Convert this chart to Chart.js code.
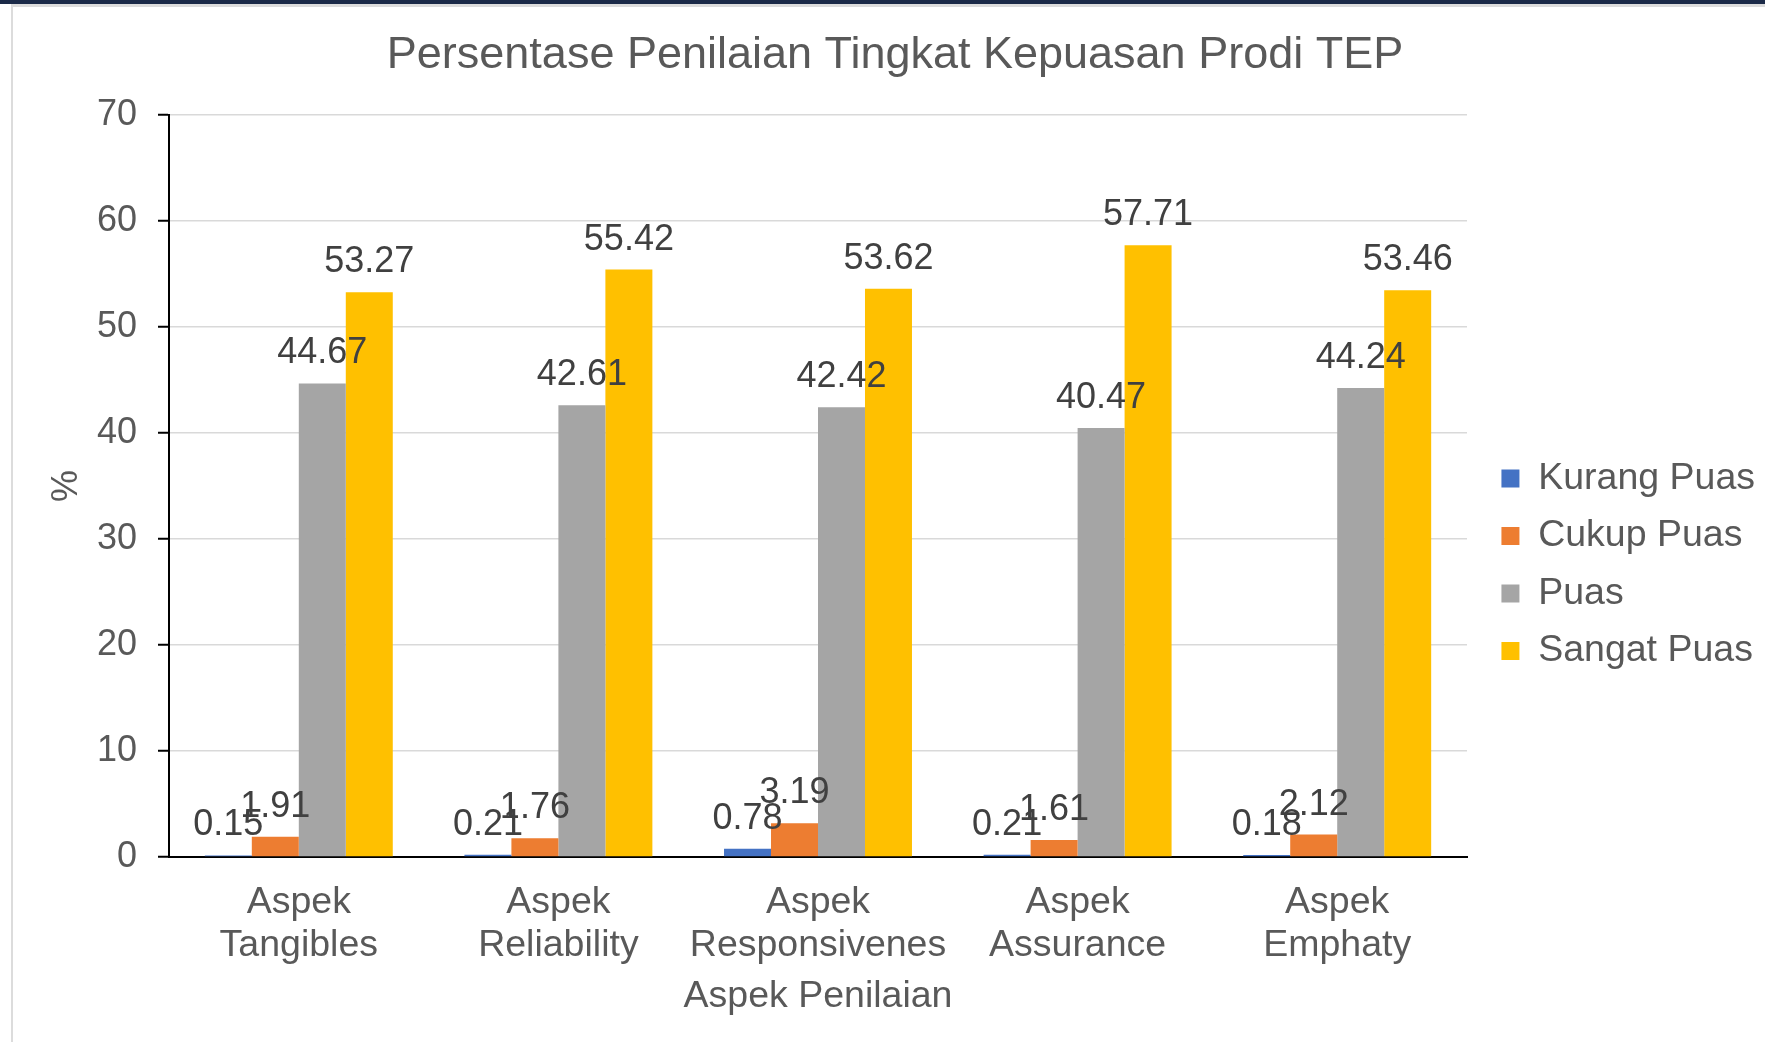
<!DOCTYPE html>
<html>
<head>
<meta charset="utf-8">
<title>Persentase Penilaian Tingkat Kepuasan Prodi TEP</title>
<script src="https://cdn.jsdelivr.net/npm/chart.js@4.4.1/dist/chart.umd.min.js"></script>
<style>
  html, body { margin: 0; padding: 0; background: #fff; overflow: hidden; }
  #topbar { position: absolute; left: 0; top: 0; width: 1765px; height: 4px; background: #1b2a48; }
  #topline { position: absolute; left: 11px; top: 4px; width: 1754px; height: 3px; background: #dcdcdc; }
  #leftline { position: absolute; left: 11px; top: 4px; width: 2px; height: 1038px; background: #dcdcdc; }
  #chart { position: absolute; left: 0; top: 0; }
</style>
</head>
<body>
<div id="topbar"></div>
<div id="topline"></div>
<div id="leftline"></div>
<canvas id="chart" width="1765" height="1042"></canvas>
<script>
// data
const categories = [
    ['Aspek', 'Tangibles'],
    ['Aspek', 'Reliability'],
    ['Aspek', 'Responsivenes'],
    ['Aspek', 'Assurance'],
    ['Aspek', 'Emphaty']
];
const seriesNames = ['Kurang Puas', 'Cukup Puas', 'Puas', 'Sangat Puas'];
const kurangPuas = [0.15, 0.21, 0.78, 0.21, 0.18];
const cukupPuas = [1.91, 1.76, 3.19, 1.61, 2.12];
const puas = [44.67, 42.61, 42.42, 40.47, 44.24];
const sangatPuas = [53.27, 55.42, 53.62, 57.71, 53.46];
const yMin = 0, yMax = 70, yStep = 10;

const seriesColors = ['#4472C4', '#ED7D31', '#A5A5A5', '#FFC000'];
const FONT = "'Liberation Sans', Arial, sans-serif";
const textGrey = '#595959';

// lebar legend diukur dulu supaya area plot pas
const legendFont = 37.5, legendPad = 20, legendBox = 18;
const mctx = document.createElement('canvas').getContext('2d');
mctx.font = legendFont + 'px ' + FONT;
const legendTextW = Math.max(...seriesNames.map(t => mctx.measureText(t).width));
const legendW = legendPad + legendBox + legendFont / 2 + legendTextW + 10;
const plotRight = 1467;
const gapRight = 1765 - legendW - plotRight;

// plugin kecil untuk label nilai di atas batang
const valueLabels = {
    id: 'valueLabels',
    afterDatasetsDraw(chart) {
        const ctx = chart.ctx;
        ctx.save();
        ctx.font = '36px ' + FONT;
        ctx.fillStyle = '#404040';
        ctx.textAlign = 'center';
        ctx.textBaseline = 'alphabetic';
        chart.data.datasets.forEach((ds, i) => {
            const meta = chart.getDatasetMeta(i);
            meta.data.forEach((bar, j) => {
                ctx.fillText(ds.data[j].toFixed(2), bar.x, bar.y - 20);
            });
        });
        ctx.restore();
    }
};

const allSeries = [kurangPuas, cukupPuas, puas, sangatPuas];

new Chart(document.getElementById('chart').getContext('2d'), {
    type: 'bar',
    data: {
        labels: categories,
        datasets: allSeries.map((vals, i) => ({
            label: seriesNames[i],
            data: vals,
            backgroundColor: seriesColors[i],
            borderWidth: 0,
            barPercentage: 1,
            categoryPercentage: 0.724
        }))
    },
    options: {
        responsive: false,
        animation: false,
        layout: { padding: { left: 25, right: 0, top: 0, bottom: 29 } },
        plugins: {
            title: {
                display: true,
                text: 'Persentase Penilaian Tingkat Kepuasan Prodi TEP',
                color: textGrey,
                font: { family: FONT, size: 45, weight: 'normal', lineHeight: 1.2 },
                padding: { top: 28.3, bottom: 32.7 }
            },
            legend: {
                position: 'right',
                fullSize: false,
                // judul kosong, hanya untuk menurunkan posisi item legend
                title: {
                    display: true,
                    text: '',
                    font: { family: FONT, size: 10, lineHeight: 1 },
                    padding: { top: 147.5, bottom: 0 }
                },
                labels: {
                    color: textGrey,
                    font: { family: FONT, size: legendFont },
                    boxWidth: legendBox,
                    boxHeight: legendBox,
                    padding: legendPad
                }
            },
            tooltip: { enabled: false }
        },
        scales: {
            x: {
                grid: { display: false, drawTicks: false },
                border: { display: true, color: '#000', width: 2 },
                ticks: {
                    color: textGrey,
                    font: { family: FONT, size: 37.5, lineHeight: 1.14 },
                    padding: 24.6,
                    maxRotation: 0,
                    autoSkip: false
                },
                title: {
                    display: true,
                    text: 'Aspek Penilaian',
                    color: textGrey,
                    font: { family: FONT, size: 37.5, lineHeight: 1.0 },
                    padding: { top: 0, bottom: -2 }
                },
                afterFit: s => { s.height = 156; }
            },
            y: {
                min: yMin,
                max: yMax,
                grid: {
                    color: c => (c.tick && c.tick.value === 0) ? 'rgba(0,0,0,0)' : '#d9d9d9',
                    lineWidth: 1.5,
                    tickColor: '#000',
                    tickWidth: 2,
                    tickLength: 11
                },
                border: { display: true, color: '#000', width: 2 },
                ticks: {
                    stepSize: yStep,
                    color: textGrey,
                    font: { family: FONT, size: 36 },
                    padding: 21
                },
                title: {
                    display: true,
                    text: '%',
                    color: textGrey,
                    font: { family: FONT, size: 36, lineHeight: 1.2 },
                    padding: { top: 20.4, bottom: 0 }
                },
                afterFit: s => { s.width = 144; }
            },
            // sumbu kosong, hanya untuk memberi jarak ke legend
            gap: {
                type: 'linear',
                position: 'right',
                grid: { display: false, drawTicks: false },
                border: { display: false },
                ticks: { display: false },
                afterFit: s => { s.width = gapRight; }
            }
        }
    },
    plugins: [valueLabels]
});
</script>
</body>
</html>
